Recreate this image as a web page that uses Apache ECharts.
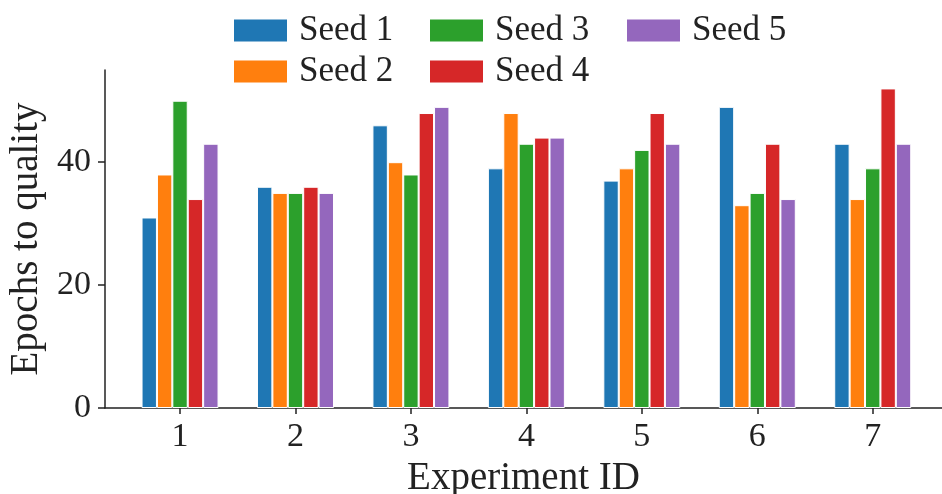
<!DOCTYPE html>
<html>
<head>
<meta charset="utf-8">
<script src="https://cdn.jsdelivr.net/npm/echarts@6/dist/echarts.min.js"></script>
<style>
  html, body { margin: 0; padding: 0; background: #fff; }
  #chart { width: 942px; height: 494px; }
</style>
</head>
<body>
<div id="chart"></div>
<script>
// experiment ids on the x axis
const experiments = [1, 2, 3, 4, 5, 6, 7];
const seedNames = ['Seed 1', 'Seed 2', 'Seed 3', 'Seed 4', 'Seed 5'];
// epochs to quality, one array per seed
const seed1 = [31, 36, 46, 39, 37, 49, 43];
const seed2 = [38, 35, 40, 48, 39, 33, 34];
const seed3 = [50, 35, 38, 43, 42, 35, 39];
const seed4 = [34, 36, 48, 44, 48, 43, 52];
const seed5 = [43, 35, 49, 44, 43, 34, 43];
const yTicks = [0, 20, 40];

const seedData = [seed1, seed2, seed3, seed4, seed5];
const colors = ['#1f77b4', '#ff7f0e', '#2ca02c', '#d62728', '#9467bd'];
const font = 'Liberation Serif';

const chart = echarts.init(document.getElementById('chart'));

// three small vertical legends give the column-first order of the original
const legendBase = {
  orient: 'vertical',
  top: 8,
  itemWidth: 53,
  itemHeight: 22,
  itemGap: 6,
  icon: 'rect',
  itemStyle: { borderWidth: 0 },
  textStyle: { fontFamily: font, fontSize: 35, color: '#222', padding: [0, 0, 0, 7] },
};

const option = {
  animation: false,
  color: colors,
  textStyle: { fontFamily: font },
  legend: [
    Object.assign({}, legendBase, { left: 229, data: ['Seed 1', 'Seed 2'] }),
    Object.assign({}, legendBase, { left: 425, data: ['Seed 3', 'Seed 4'] }),
    Object.assign({}, legendBase, { left: 622, data: ['Seed 5'] }),
  ],
  grid: { left: 105, right: 0, top: 70, bottom: 86, containLabel: false, outerBoundsMode: 'none' },
  xAxis: {
    type: 'value',
    min: 0.35,
    max: 7.6,
    name: 'Experiment ID',
    nameLocation: 'middle',
    nameGap: 44,
    nameTextStyle: { fontFamily: font, fontSize: 39, color: '#222' },
    axisLine: { show: true, lineStyle: { color: '#222', width: 1.5 } },
    axisTick: { show: true, length: 6, lineStyle: { color: '#222', width: 1.5 }, customValues: experiments },
    axisLabel: { fontFamily: font, fontSize: 34, color: '#222', margin: 12, customValues: experiments },
    splitLine: { show: false },
  },
  yAxis: {
    type: 'value',
    min: 0,
    max: 55,
    interval: 20,
    name: 'Epochs to quality',
    nameLocation: 'middle',
    nameGap: 56,
    nameTextStyle: { fontFamily: font, fontSize: 39, color: '#222' },
    axisLine: { show: true, lineStyle: { color: '#222', width: 1.5 } },
    axisTick: { show: true, length: 7, lineStyle: { color: '#222', width: 1.5 }, customValues: yTicks },
    axisLabel: { fontFamily: font, fontSize: 34, color: '#222', margin: 14, customValues: yTicks },
    splitLine: { show: false },
  },
  series: seedNames.map((name, s) => ({
    name: name,
    type: 'bar',
    barWidth: 15.4,
    barGap: '0%',
    itemStyle: { borderColor: '#fff', borderWidth: 1 },
    data: experiments.map((e, i) => [e, seedData[s][i]]),
  })),
};

chart.setOption(option);
window.addEventListener('resize', () => {
  chart.resize();
});
</script>
</body>
</html>
